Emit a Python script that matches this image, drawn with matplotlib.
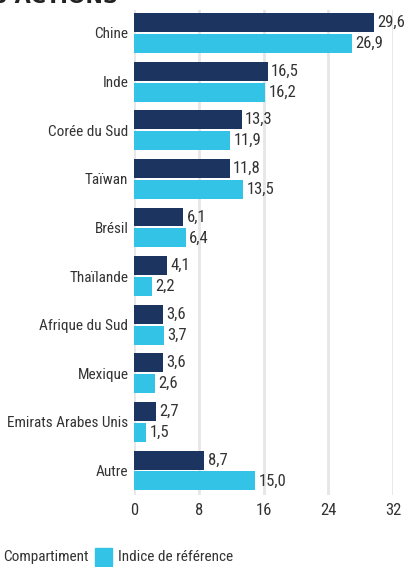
import matplotlib
matplotlib.use("Agg")
import matplotlib.pyplot as plt
from matplotlib.patches import Rectangle
import logging
logging.getLogger('matplotlib.font_manager').setLevel(logging.ERROR)

plt.rcParams['font.family'] = ['Roboto Condensed', 'Liberation Sans Narrow', 'Liberation Sans', 'DejaVu Sans']

categories = ["Chine", "Inde", "Corée du Sud", "Taïwan", "Brésil", "Thaïlande",
              "Afrique du Sud", "Mexique", "Emirats Arabes Unis", "Autre"]
compartiment = [29.6, 16.5, 13.3, 11.8, 6.1, 4.1, 3.6, 3.6, 2.7, 8.7]
indice = [26.9, 16.2, 11.9, 13.5, 6.4, 2.2, 3.7, 2.6, 1.5, 15.0]
xticks = [0, 8, 16, 24, 32]
series_names = ["Compartiment", "Indice de référence"]

DARK = "#1b3460"
LIGHT = "#33c3e6"
TXT = "#333333"

W, H = 410, 567
fig = plt.figure(figsize=(W/100, H/100), dpi=100)
ax = fig.add_axes([134/W, 1-495/H, (393-134)/W, 485/H])

bh = 0.39
off = 0.215
ypos = list(range(len(categories)))
b1 = ax.barh([y - off for y in ypos], compartiment, height=bh, color=DARK, zorder=3)
b2 = ax.barh([y + off for y in ypos], indice, height=bh, color=LIGHT, zorder=3)

fs_lab = 11
fs_val = 12
for bars, vals in ((b1, compartiment), (b2, indice)):
    for r, v in zip(bars, vals):
        ax.annotate(f"{v:.1f}".replace(".", ","), (r.get_width(), r.get_y() + r.get_height()/2),
                    xytext=(2.5, 0), textcoords="offset points", va="center", ha="left",
                    fontsize=fs_val, color=TXT, annotation_clip=False)

ax.set_xlim(0, 32)
ax.set_ylim(9.504, -0.473)
ax.set_xticks(xticks)
ax.set_xticklabels([str(t) for t in xticks], fontsize=fs_val, color=TXT)
ax.set_yticks(ypos)
ax.set_yticklabels(categories, fontsize=fs_lab, color=TXT)
ax.tick_params(axis='both', length=0)
ax.tick_params(axis='y', pad=4)
ax.tick_params(axis='x', pad=6)
ax.grid(axis='x', color="#e6e6e6", linewidth=2, zorder=0)
for s in ax.spines.values():
    s.set_visible(False)

# title, mostly cropped at the top edge
fig.text(118/W, 1-3/H, "PAYS DES ACTIONS", ha="right", va="baseline", fontsize=15,
         fontweight="bold", color="#222222", family="DejaVu Sans")

# legend (left part cropped)
fig.patches.append(Rectangle((-24/W, 1-566/H), 17/W, 18/H, transform=fig.transFigure,
                             color=DARK, figure=fig))
fig.text(3/W, 1-557/H, series_names[0], ha="left", va="center", fontsize=11, color=TXT)
fig.patches.append(Rectangle((95/W, 1-566/H), 17/W, 18/H, transform=fig.transFigure,
                             color=LIGHT, figure=fig))
fig.text(118/W, 1-557/H, series_names[1], ha="left", va="center", fontsize=11, color=TXT)

fig.savefig("out.png", dpi=100)
